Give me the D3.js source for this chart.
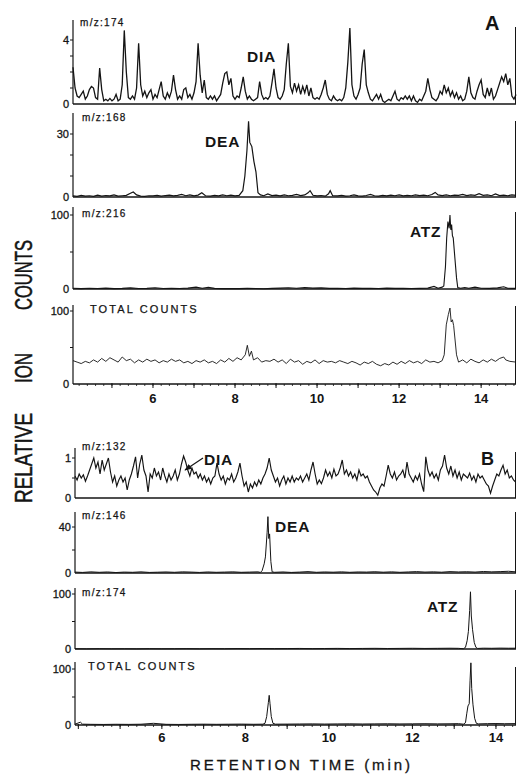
<!DOCTYPE html>
<html><head><meta charset="utf-8">
<script src="https://cdn.jsdelivr.net/npm/d3@7"></script>
<style>body{margin:0;background:#fff}svg{display:block}</style>
</head><body><svg id="c" width="517" height="775"></svg>
<script>
// ---------------- DATA ----------------
// Panel A, m/z 174 (uniform sampling, start 4.05 min, step 0.05 min)
const a1Start = 4.05, a1Step = 0.05;
const a1Values = [
 2.3,1.0,0.5,0.4,0.6,0.8,0.3,0.5,0.9,1.1,
 1.0,0.4,0.3,2.25,0.9,0.2,0.3,0.2,0.35,0.2,
 0.3,0.6,0.2,0.3,1.2,4.6,2.0,0.4,0.3,0.5,
 0.3,1.0,3.8,1.2,0.5,0.8,0.4,0.7,0.9,0.3,
 0.6,0.4,0.9,1.4,0.5,0.3,0.7,0.4,0.8,1.8,
 0.9,0.3,0.5,0.3,0.9,1.0,0.4,0.6,0.3,0.7,
 1.4,3.8,1.8,0.7,1.5,0.4,0.3,0.5,0.3,0.5,
 0.2,0.4,0.6,1.3,1.9,2.0,1.2,1.6,0.5,0.3,
 0.5,0.4,1.0,1.7,0.8,0.3,0.5,0.3,0.2,0.3,
 0.4,1.4,0.6,0.3,0.4,0.3,0.5,1.3,2.2,1.0,
 0.4,0.3,0.5,0.9,2.5,3.8,1.1,0.7,1.3,0.8,
 1.2,0.6,1.1,0.7,1.2,0.5,1.0,0.4,0.3,0.4,
 0.3,0.6,1.0,1.5,0.6,0.3,0.2,0.5,0.3,0.2,
 0.3,0.2,0.4,1.0,2.6,4.75,1.2,0.5,0.3,0.6,
 1.0,2.5,3.4,1.2,0.7,0.3,0.2,0.4,0.6,0.3,
 0.6,0.2,0.1,0.2,0.3,0.2,0.5,0.8,0.3,0.2,
 0.4,0.3,0.5,0.3,0.5,0.2,0.5,0.2,0.1,0.3,
 0.2,0.5,0.8,1.6,0.9,0.4,0.3,0.2,0.4,0.8,
 0.6,1.2,0.7,1.0,0.5,0.8,0.4,0.7,0.3,0.5,
 0.2,0.3,0.8,1.7,0.7,0.4,0.3,0.8,1.2,1.5,
 0.6,0.4,1.0,0.5,1.0,0.3,0.5,0.9,1.3,1.7,
 1.4,1.9,1.2,1.6,0.5,0.3,0.6
];

// Panel A, m/z 168 (time, value)
const a2Times = [4.05,4.15,4.25,4.35,4.45,4.55,4.65,4.75,4.85,4.95,5.05,5.15,5.25,5.35,5.45,5.52,5.6,5.7,5.8,5.9,6.0,6.1,6.2,6.3,6.4,6.5,6.6,6.7,6.8,6.9,7.0,7.1,7.19,7.28,7.4,7.5,7.6,7.7,7.8,7.9,8.0,8.1,8.19,8.24,8.29,8.33,8.36,8.41,8.46,8.51,8.56,8.62,8.7,8.8,8.9,9.0,9.1,9.2,9.3,9.4,9.5,9.6,9.7,9.78,9.83,9.9,10.0,10.1,10.2,10.28,10.32,10.38,10.5,10.6,10.7,10.8,10.9,11.0,11.1,11.2,11.3,11.4,11.5,11.6,11.7,11.8,11.9,12.0,12.1,12.2,12.3,12.4,12.5,12.6,12.7,12.8,12.88,12.95,13.05,13.15,13.25,13.35,13.45,13.55,13.65,13.75,13.85,13.95,14.05,14.15,14.25,14.35,14.45,14.55,14.65,14.75,14.85];
const a2Values = [0.5,0.3,0.8,0.4,0.6,0.3,0.9,0.4,0.7,0.5,1.0,0.4,0.6,0.8,1.8,2.4,1.0,0.4,0.3,0.6,0.5,0.8,0.4,0.7,0.9,0.5,0.8,1.2,0.6,1.0,0.5,0.9,2.0,0.6,0.4,0.8,0.5,1.0,0.6,0.9,0.5,0.8,3,10,22,36,26,24,17,12,2,1.0,0.6,1.5,0.7,0.9,0.5,1.0,0.6,0.8,1.2,0.7,1.0,2.0,3.0,0.8,0.5,0.7,0.4,1.5,3.0,0.6,0.5,0.8,0.4,0.6,1.0,0.5,0.4,0.7,1.2,0.6,0.4,0.8,0.5,0.9,0.6,1.0,0.5,0.8,0.6,1.0,0.7,0.9,0.6,1.2,2.2,1.0,0.7,1.0,0.6,0.9,0.8,1.2,0.7,1.0,0.8,1.6,0.8,1.0,0.6,1.5,0.7,0.9,0.6,1.0,0.8];

// Panel A, m/z 216
const a3Times = [4.05,4.25,4.45,4.65,4.85,5.05,5.25,5.45,5.65,5.85,6.05,6.25,6.45,6.65,6.85,7.05,7.2,7.35,7.5,7.7,7.9,8.1,8.3,8.5,8.7,8.9,9.1,9.3,9.5,9.7,9.9,10.1,10.3,10.5,10.7,10.9,11.1,11.3,11.5,11.7,11.9,12.1,12.3,12.5,12.7,12.85,12.95,13.05,13.09,13.13,13.16,13.19,13.22,13.24,13.26,13.28,13.3,13.32,13.36,13.4,13.43,13.5,13.6,13.7,13.85,14.0,14.2,14.4,14.55,14.65,14.85];
const a3Values = [1,0.5,1,0.6,1.2,0.5,0.8,1.5,0.6,0.9,1.6,0.7,1.0,0.6,1.2,2.5,1.0,2.2,0.8,0.5,0.7,0.5,0.8,0.6,0.4,0.8,1.2,1.6,1.0,1.8,1.2,1.5,0.8,1.0,0.6,1.2,0.8,1.0,0.7,1.2,0.8,1.0,0.6,0.9,1.2,3.5,1.0,2.5,4,30,69,91,82,100,80,87,72,69,42,15,2,1.0,2.0,1.0,2.5,1.0,0.8,1.5,3.0,1.0,0.8];

// Panel A, total counts
const a4Times = [4.05,4.15,4.25,4.35,4.45,4.55,4.65,4.75,4.85,4.95,5.05,5.15,5.25,5.35,5.45,5.55,5.65,5.75,5.85,5.95,6.05,6.15,6.25,6.35,6.45,6.55,6.65,6.75,6.85,6.95,7.05,7.15,7.25,7.35,7.45,7.55,7.65,7.75,7.85,7.95,8.05,8.15,8.25,8.3,8.35,8.4,8.45,8.55,8.65,8.75,8.85,8.95,9.05,9.15,9.25,9.35,9.45,9.55,9.65,9.75,9.85,9.95,10.05,10.15,10.25,10.35,10.45,10.55,10.65,10.75,10.85,10.95,11.05,11.15,11.25,11.35,11.45,11.55,11.65,11.75,11.85,11.95,12.05,12.15,12.25,12.35,12.45,12.55,12.65,12.75,12.85,12.95,13.05,13.1,13.15,13.2,13.24,13.27,13.3,13.33,13.36,13.4,13.45,13.55,13.65,13.75,13.85,13.95,14.05,14.15,14.25,14.35,14.45,14.55,14.6,14.7,14.85];
const a4Values = [32,30,28,31,29,33,30,35,31,36,33,30,37,32,34,29,33,30,34,31,33,29,32,30,34,31,33,29,31,28,32,30,33,29,31,28,33,30,35,31,36,33,40,53,38,45,33,36,30,32,31,34,30,33,28,34,30,32,27,31,29,33,28,32,30,31,29,32,30,28,31,29,26,30,28,31,27,25,28,26,30,27,31,28,32,29,31,28,33,30,31,29,32,40,81,95,104,85,88,80,63,40,30,33,29,34,31,29,33,30,34,31,35,37,33,31,30];

// Panel B, m/z 132 (uniform sampling, start 3.92 min, step 0.05 min)
const b1Start = 3.92, b1Step = 0.05;
const b1Values = [
 0.55,0.45,0.6,0.5,0.58,0.42,0.55,0.7,0.85,1.0,
 0.75,0.9,0.6,0.95,0.7,0.85,1.0,0.65,0.4,0.55,
 0.3,0.45,0.55,0.4,0.5,0.2,0.45,0.6,0.8,1.03,
 0.5,0.85,1.07,0.7,0.55,0.15,0.6,0.5,0.75,0.55,
 0.65,0.45,0.75,0.55,0.4,0.6,0.45,0.55,0.7,0.45,
 0.6,0.85,1.05,0.9,0.7,0.55,0.75,0.6,0.65,0.5,
 0.6,0.45,0.55,0.4,0.5,0.35,0.5,0.55,0.87,0.6,
 0.45,0.55,0.35,0.5,0.45,0.6,0.4,0.5,0.65,0.87,
 0.55,0.3,0.4,0.15,0.35,0.25,0.4,0.3,0.45,0.35,
 0.5,0.6,0.75,1.0,0.7,0.55,0.4,0.5,0.3,0.45,
 0.55,0.35,0.5,0.4,0.55,0.4,0.5,0.45,0.55,0.4,
 0.5,0.6,0.45,0.7,0.9,0.6,0.35,0.45,0.36,0.5,
 0.7,0.55,0.65,0.5,0.72,0.55,0.6,0.75,0.95,0.6,
 0.7,0.55,0.65,0.5,0.6,0.45,0.7,0.55,0.6,0.5,
 0.55,0.4,0.3,0.2,0.15,0.07,0.25,0.35,0.3,0.55,
 0.82,0.6,0.5,0.65,0.45,0.55,0.6,0.7,0.5,0.9,
 0.6,0.5,0.4,0.55,0.45,0.6,0.35,0.16,1.03,0.7,
 0.55,0.65,0.5,0.6,0.45,0.7,0.8,1.07,0.75,0.6,
 0.8,0.55,0.7,0.5,0.65,0.45,0.6,0.55,0.5,0.62,
 0.45,0.55,0.4,0.6,0.5,0.55,0.45,0.35,0.3,0.12,
 0.3,0.45,0.6,0.55,0.7,0.82,0.6,0.7,0.5,0.55,
 0.45,0.4
];

// Panel B, m/z 146
const b2Times = [3.92,4.1,4.3,4.5,4.7,4.9,5.1,5.3,5.5,5.7,5.9,6.1,6.3,6.5,6.7,6.9,7.1,7.3,7.5,7.7,7.9,8.1,8.3,8.36,8.4,8.45,8.48,8.52,8.54,8.56,8.58,8.61,8.64,8.7,8.9,9.1,9.3,9.5,9.7,9.9,10.1,10.3,10.5,10.7,10.9,11.1,11.3,11.5,11.7,11.9,12.1,12.3,12.5,12.7,12.9,13.1,13.3,13.5,13.7,13.9,14.1,14.3,14.48];
const b2Values = [0.8,0.5,1.0,0.6,0.9,0.4,0.8,0.6,1.0,0.5,0.7,0.9,0.6,1.0,0.8,0.5,0.9,0.6,0.8,1.0,0.6,0.8,1.0,0.5,2,8,14,35,49,30,34,10,1,0.6,0.9,0.5,0.8,1.2,0.6,0.9,0.7,1.0,0.6,0.9,0.8,1.1,0.7,1.0,0.6,0.9,1.2,0.8,1.0,0.7,1.2,0.9,1.1,0.8,1.3,1.0,1.2,1.5,1.0];

// Panel B, m/z 174
const b3Times = [3.92,4.2,4.5,4.8,5.1,5.4,5.7,6.0,6.3,6.6,6.9,7.2,7.5,7.8,8.1,8.4,8.7,9.0,9.3,9.6,9.9,10.2,10.5,10.8,11.1,11.4,11.7,12.0,12.3,12.6,12.9,13.1,13.22,13.27,13.31,13.34,13.37,13.39,13.41,13.44,13.48,13.52,13.56,13.7,13.9,14.1,14.3,14.48];
const b3Values = [0.5,0.3,0.6,0.4,0.5,0.3,0.6,0.4,0.5,0.7,0.4,0.6,0.5,0.8,0.6,0.9,0.7,0.8,1.0,0.7,0.9,1.1,0.8,1.0,1.2,0.9,1.1,1.3,1.0,1.2,1.4,1.2,0.5,3,15,32,70,104,60,35,12,3,1,1.5,1.3,1.6,1.4,1.5];

// Panel B, total counts
const b4Times = [3.92,4.05,4.1,4.3,4.6,4.9,5.2,5.5,5.8,6.1,6.4,6.7,7.0,7.3,7.6,7.9,8.2,8.42,8.47,8.51,8.55,8.57,8.59,8.62,8.66,8.72,9.0,9.3,9.6,9.9,10.2,10.5,10.8,11.1,11.4,11.7,12.0,12.3,12.6,12.9,13.1,13.22,13.27,13.3,13.33,13.36,13.38,13.40,13.42,13.45,13.49,13.53,13.58,13.8,14.0,14.2,14.48];
const b4Values = [1.5,5,1.5,1.2,1.0,1.3,1.1,1.4,3,1.2,1.0,1.3,1.5,1.2,1.4,1.6,1.3,1.5,3,15,40,53,38,15,3,1.5,1.6,1.8,2.0,1.7,1.9,2.1,1.8,2.0,2.2,1.9,2.1,2.3,2.0,2.2,2.4,1.5,4,20,34,38,80,111,65,36,12,3,2,2.4,2.6,2.3,2.5];

// Axis labels
const xTickLabels = [6, 8, 10, 12, 14];

// ---------------- DRAW ----------------
const FONT = "'Liberation Sans', Arial, Helvetica, sans-serif";
const svg = d3.select("#c");
svg.append("rect").attr("width", 517).attr("height", 775).attr("fill", "#fff");

const xA = d3.scaleLinear().domain([4.05, 14.85]).range([73, 516]);
const xB = d3.scaleLinear().domain([3.92, 14.48]).range([75, 516]);

const uniform = (start, step, vals) => vals.map((v, i) => [start + i * step, v]);
const pairs = (ts, vs) => ts.map((t, i) => [t, vs[i]]);

const panels = [
  {x: xA, data: uniform(a1Start, a1Step, a1Values), y0: 104, ref: 4, yRef: 40, top: 20, rtop: 27,
   ticks: [1, 2, 3, 4], labels: [0, 4], title: "m/z:174", tx: 80, ty: 26, sw: 1.3},
  {x: xA, data: pairs(a2Times, a2Values), y0: 197, ref: 30, yRef: 134, top: 113, rtop: 121,
   ticks: [10, 20, 30], labels: [0, 30], title: "m/z:168", tx: 82, ty: 121, sw: 1.2},
  {x: xA, data: pairs(a3Times, a3Values), y0: 289, ref: 100, yRef: 215, top: 207, rtop: 212,
   ticks: [50, 100], labels: [0, 100], title: "m/z:216", tx: 82, ty: 217, sw: 1.1},
  {x: xA, data: pairs(a4Times, a4Values), y0: 384, ref: 100, yRef: 311, top: 305, rtop: 306,
   ticks: [50, 100], labels: [0, 100], title: "TOTAL COUNTS", tx: 90, ty: 313, sw: 0.9, total: true, xaxis: 398},
  {x: xB, data: uniform(b1Start, b1Step, b1Values), y0: 498, ref: 1, yRef: 458, top: 448, rtop: 452,
   ticks: [0.5, 1], labels: [0, 1], title: "m/z:132", tx: 82, ty: 450, sw: 1.15},
  {x: xB, data: pairs(b2Times, b2Values), y0: 573, ref: 40, yRef: 527, top: 512, rtop: 512,
   ticks: [20, 40], labels: [0, 40], title: "m/z:146", tx: 82, ty: 519, sw: 1},
  {x: xB, data: pairs(b3Times, b3Values), y0: 649, ref: 100, yRef: 594, top: 588, rtop: 590,
   ticks: [50, 100], labels: [0, 100], title: "m/z:174", tx: 82, ty: 596, sw: 1},
  {x: xB, data: pairs(b4Times, b4Values), y0: 725, ref: 100, yRef: 669, top: 662, rtop: 667,
   ticks: [50, 100], labels: [0, 100], title: "TOTAL COUNTS", tx: 88, ty: 670, sw: 1, total: true, xaxis: 737}
];

const ink = "#141414";

panels.forEach(p => {
  const y = d3.scaleLinear().domain([0, p.ref]).range([p.y0, p.yRef]);
  const xl = p.x.range()[0], xr = p.x.range()[1];
  const g = svg.append("g");
  g.append("line").attr("x1", xl).attr("x2", xl).attr("y1", p.y0).attr("y2", p.top)
    .attr("stroke", ink).attr("stroke-width", 1.2);
  g.append("line").attr("x1", xr - 0.5).attr("x2", xr - 0.5).attr("y1", p.y0).attr("y2", p.rtop)
    .attr("stroke", ink).attr("stroke-width", 1);
  g.selectAll(".yt").data(p.ticks).enter().append("line")
    .attr("x1", xl - 3).attr("x2", xl).attr("y1", d => y(d)).attr("y2", d => y(d))
    .attr("stroke", ink).attr("stroke-width", 1);
  g.selectAll(".yl").data(p.labels).enter().append("text")
    .attr("x", xl - 4).attr("y", d => y(d)).attr("dy", "0.36em")
    .attr("text-anchor", "end").attr("font-family", FONT).attr("font-size", 11)
    .attr("fill", ink).attr("stroke", ink).attr("stroke-width", 0.3).text(d => d);
  const line = d3.line().x(d => p.x(d[0])).y(d => y(d[1]));
  g.append("path").datum(p.data).attr("d", line).attr("fill", "none")
    .attr("stroke", ink).attr("stroke-width", p.sw).attr("stroke-linejoin", "miter");
  g.append("line").attr("x1", xl).attr("x2", xr).attr("y1", p.y0).attr("y2", p.y0)
    .attr("stroke", ink).attr("stroke-width", 1.5);
  const tt = g.append("text").attr("x", p.tx).attr("y", p.ty).attr("font-family", FONT)
    .attr("fill", ink).attr("stroke", ink).attr("stroke-width", 0.25).text(p.title);
  if (p.total) tt.attr("font-size", 11).attr("letter-spacing", 2.1);
  else tt.attr("font-size", 10).attr("letter-spacing", 1.3);

  if (p.xaxis) {
    const [d0, d1] = p.x.domain();
    const minor = d3.range(Math.ceil(d0 * 5) / 5, d1, 0.2);
    g.selectAll(".xm").data(minor).enter().append("line")
      .attr("x1", d => p.x(d)).attr("x2", d => p.x(d)).attr("y1", p.y0).attr("y2", p.y0 + 2)
      .attr("stroke", ink).attr("stroke-width", 0.8);
    const major = d3.range(Math.ceil(d0), d1);
    g.selectAll(".xM").data(major).enter().append("line")
      .attr("x1", d => p.x(d)).attr("x2", d => p.x(d)).attr("y1", p.y0 - 1).attr("y2", p.y0 + 4)
      .attr("stroke", ink).attr("stroke-width", 1);
    g.selectAll(".xl").data(xTickLabels).enter().append("text")
      .attr("x", d => p.x(d)).attr("y", p.xaxis).attr("dy", "0.36em")
      .attr("text-anchor", "middle").attr("font-family", FONT).attr("font-size", 13)
      .attr("font-weight", "bold").attr("fill", ink).text(d => d);
  }
});

const lbl = (x, y, s, size) => svg.append("text").attr("x", x).attr("y", y)
  .attr("font-family", FONT).attr("font-weight", "bold").attr("font-size", size || 15.5)
  .attr("letter-spacing", 0.8).attr("fill", ink).text(s);
lbl(247, 62, "DIA");
lbl(205, 147, "DEA");
lbl(410, 237, "ATZ");
lbl(204, 465, "DIA");
lbl(275, 532, "DEA");
lbl(427, 612, "ATZ");
lbl(485, 30, "A", 20);
lbl(481, 465, "B", 18);

svg.append("defs").append("marker").attr("id", "ah").attr("viewBox", "0 0 10 10")
  .attr("refX", 9).attr("refY", 5).attr("markerWidth", 6).attr("markerHeight", 6)
  .attr("orient", "auto").append("path").attr("d", "M0,1 L10,5 L0,9 Z").attr("fill", ink);
svg.append("line").attr("x1", 203).attr("y1", 458).attr("x2", 185).attr("y2", 470)
  .attr("stroke", ink).attr("stroke-width", 1.2).attr("marker-end", "url(#ah)");

const yWord = (yStart, len, s) => svg.append("text")
  .attr("transform", `translate(32,${yStart}) rotate(-90)`)
  .attr("font-family", FONT).attr("font-size", 23).attr("fill", ink)
  .attr("stroke", ink).attr("stroke-width", 0.5)
  .attr("textLength", len).attr("lengthAdjust", "spacingAndGlyphs").text(s);
yWord(503, 90, "RELATIVE");
yWord(383, 30, "ION");
yWord(310, 70, "COUNTS");

svg.append("text").attr("x", 190).attr("y", 770).attr("font-family", FONT)
  .attr("font-size", 15).attr("fill", ink).attr("stroke", ink).attr("stroke-width", 0.3)
  .attr("textLength", 220).attr("lengthAdjust", "spacing")
  .text("RETENTION TIME  (min)");
</script></body></html>
